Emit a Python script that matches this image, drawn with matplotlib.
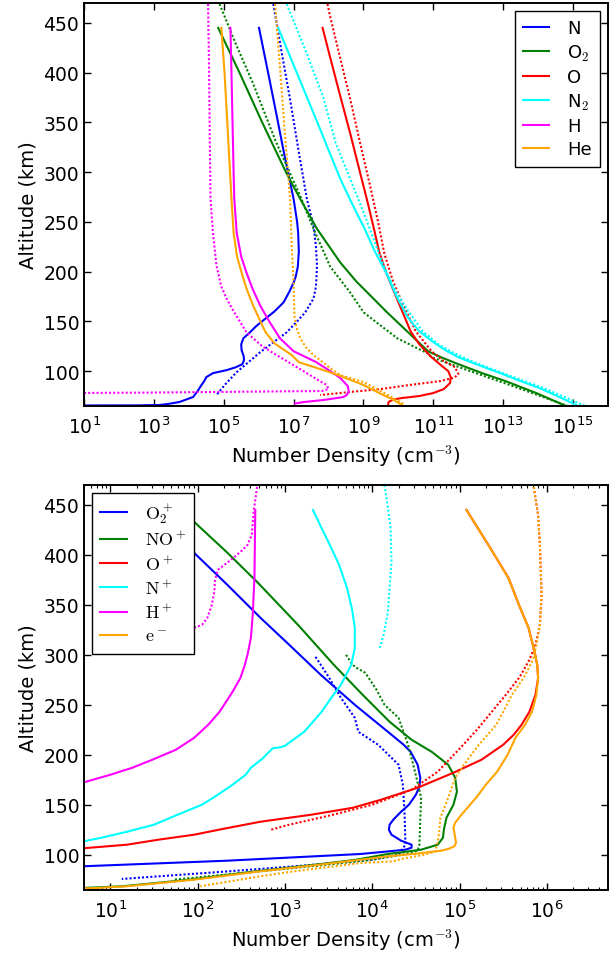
import matplotlib
matplotlib.use('Agg')
import matplotlib.pyplot as plt
from matplotlib.ticker import NullLocator, NullFormatter, FixedLocator, LogLocator, LogFormatterSciNotation

plt.rcParams['mathtext.fontset'] = 'cm'
plt.rcParams['font.family'] = 'DejaVu Sans'

# ---------------- neutral species (top panel) ----------------
# solid = model, dotted = reference profile
N_alt = [445, 400, 356, 320, 300, 273, 250, 239, 220, 205, 195, 189, 180, 169, 160, 151, 145, 139,
         133, 127, 121, 115, 111, 107, 104, 101, 98, 94, 90, 86, 80, 74, 69, 67, 66, 65.6, 65.5]
N_mod = [1.02e6, 1.86e6, 3.31e6, 5.25e6, 6.92e6, 1.0e7, 1.26e7, 1.35e7, 1.41e7, 1.32e7, 1.15e7, 1.0e7,
         7.59e6, 5.13e6, 2.82e6, 1.35e6, 8.32e5, 5.62e5, 3.63e5, 3.16e5, 3.24e5, 3.72e5, 3.80e5, 3.39e5,
         2.24e5, 1.20e5, 4.9e4, 3.16e4, 2.75e4, 2.29e4, 1.78e4, 1.32e4, 5.37e3, 2.51e3, 1.45e3, 3.16e2, 1.0]
N_ref_alt = [469, 420, 373, 320, 273, 246, 225, 206, 185, 173, 159, 150, 139, 119, 99, 87, 76]
N_ref = [2.63e6, 4.57e6, 7.94e6, 1.41e7, 2.40e7, 3.72e7, 4.37e7, 4.68e7, 4.37e7, 3.72e7, 2.14e7,
         1.26e7, 6.31e6, 1.10e6, 2.34e5, 1.12e5, 6.17e4]

O2_alt = [445, 400, 350, 300, 273, 243, 209, 190, 176, 160, 143, 130, 120, 114, 107, 98, 90, 78, 65]
O2_mod = [6.92e4, 2.82e5, 1.26e6, 6.03e6, 1.55e7, 4.68e7, 2.19e8, 6.31e8, 1.58e9, 4.47e9, 1.45e10,
          3.55e10, 7.08e10, 1.66e11, 5.25e11, 2.51e12, 1.17e13, 8.91e13, 6.31e14]
O2_ref_alt = [469, 430, 389, 330, 276, 243, 205, 180, 159, 151, 133, 118, 114, 102, 84, 65]
O2_ref = [7.59e4, 2.14e5, 6.92e5, 3.16e6, 1.55e7, 3.72e7, 1.12e8, 3.98e8, 1.02e9, 2.0e9, 9.33e9,
          6.76e10, 8.91e10, 7.94e11, 2.29e13, 7.08e14]

O_alt = [445, 416, 380, 339, 300, 271, 243, 220, 199, 171, 156, 140, 127, 114, 106, 100, 94, 88,
         82, 78, 75, 73, 71.5, 69, 65]
O_mod = [6.76e7, 1.10e8, 2.04e8, 4.17e8, 7.94e8, 1.29e9, 2.0e9, 2.82e9, 4.47e9, 9.55e9, 1.45e10,
         2.24e10, 3.98e10, 8.91e10, 1.66e11, 2.69e11, 3.16e11, 3.02e11, 2.0e11, 1.0e11, 3.98e10,
         1.26e10, 7.08e9, 5.25e9, 5.01e9]
O_ref_alt = [469, 456, 372, 330, 285, 250, 218, 190, 164, 140, 120, 110, 104, 97, 93.5, 90, 86, 82, 79, 76]
O_ref = [9.33e7, 1.12e8, 4.27e8, 7.94e8, 1.58e9, 2.63e9, 3.98e9, 7.08e9, 1.48e10, 3.16e10, 8.91e10,
         2.0e11, 4.17e11, 5.25e11, 3.98e11, 1.58e11, 2.0e10, 3.16e9, 3.98e8, 5.75e7]

N2_alt = [445, 400, 350, 318, 293, 270, 244, 220, 199, 175, 154, 140, 128, 120, 114, 106, 98.5, 90, 83, 75, 65]
N2_mod = [3.63e6, 1.23e7, 4.79e7, 1.12e8, 2.19e8, 4.47e8, 1.05e9, 2.14e9, 4.47e9, 8.91e9, 1.86e10,
          3.98e10, 1.12e11, 2.51e11, 5.25e11, 2.0e12, 7.59e12, 3.16e13, 1.10e14, 3.55e14, 1.41e15]
N2_ref_alt = [469, 420, 375, 330, 295, 258, 230, 204, 180, 161, 140, 127, 118, 110, 97, 82, 65]
N2_ref = [6.31e6, 2.34e7, 7.08e7, 1.58e8, 3.98e8, 1.05e9, 2.09e9, 3.98e9, 8.51e9, 1.86e10, 5.01e10,
          1.38e11, 3.98e11, 1.26e12, 1.17e13, 1.70e14, 2.24e15]

H_alt = [445, 400, 350, 300, 273, 239, 215, 199, 183, 166, 150, 133, 120, 109, 100, 93, 85, 79.5,
         76, 74, 71, 69, 67.5]
H_mod = [1.55e5, 1.66e5, 1.78e5, 1.91e5, 2.0e5, 2.34e5, 3.16e5, 4.47e5, 6.61e5, 1.10e6, 2.0e6,
         4.07e6, 1.0e7, 4.47e7, 1.12e8, 2.19e8, 3.55e8, 3.80e8, 3.31e8, 2.69e8, 7.24e7, 2.0e7, 1.10e7]
H_ref_alt = [469, 400, 330, 273, 239, 206, 185, 173, 159, 139, 125, 116, 106, 96, 90, 86, 82,
             80, 79.5, 78.5, 78.0]
H_ref = [3.55e4, 3.80e4, 3.98e4, 4.17e4, 4.90e4, 6.17e4, 8.51e4, 1.20e5, 2.0e5, 4.47e5, 1.26e6,
         3.31e6, 1.0e7, 2.95e7, 5.62e7, 8.91e7, 1.0e8, 6.31e7, 1.0e6, 1.0e3, 3.16]

He_alt = [445, 400, 350, 300, 273, 239, 215, 199, 183, 166, 150, 139, 128, 116, 109, 99.4, 93,
          86, 78, 71, 66]
He_mod = [8.51e4, 1.05e5, 1.26e5, 1.51e5, 1.66e5, 1.91e5, 2.40e5, 3.24e5, 4.47e5, 6.92e5, 1.12e6,
          1.58e6, 2.82e6, 8.91e6, 1.41e7, 1.0e8, 3.16e8, 1.02e9, 2.82e9, 7.41e9, 1.26e10]
He_ref_alt = [469, 400, 330, 273, 223, 190, 156, 143, 133, 124, 116, 110, 103, 96, 89, 78, 67]
He_ref = [2.95e6, 4.17e6, 5.89e6, 7.94e6, 8.91e6, 1.0e7, 1.05e7, 1.23e7, 1.55e7, 2.24e7, 3.72e7,
          6.31e7, 1.12e8, 2.19e8, 1.02e9, 3.98e9, 1.41e10]

# ---------------- ions (bottom panel) ----------------
O2p_alt = [445, 402, 370, 337, 310, 280, 250, 223, 210, 203, 190, 177, 168, 160, 150, 143, 135,
           130, 125, 120, 114, 110, 107, 105, 103, 100.7, 94, 88.4]
O2p_mod = [28.8, 91.2, 219, 525, 1.12e3, 2.57e3, 6.31e3, 1.51e4, 2.29e4, 2.75e4, 3.31e4, 3.55e4,
           3.47e4, 3.16e4, 2.63e4, 2.14e4, 1.74e4, 1.58e4, 1.55e4, 1.66e4, 2.14e4, 2.82e4, 2.82e4,
           2.40e4, 1.41e4, 7.41e3, 219, 4.9]
O2p_ref_alt = [298, 278, 257, 237, 223, 210, 190, 170, 143, 110, 100, 95, 89, 83, 75.7]
O2p_ref = [2.24e3, 3.16e3, 4.37e3, 6.31e3, 6.92e3, 1.17e4, 2.0e4, 2.24e4, 2.34e4, 2.40e4, 2.0e4,
           1.0e4, 1.58e3, 200, 13.5]

NOp_alt = [445, 433, 403, 373, 330, 290, 260, 233, 215, 203, 190, 177, 163, 150, 137, 125, 117,
           110, 105, 100.7, 95, 90.5, 83.4, 75, 68.4, 66]
NOp_mod = [64.6, 91.2, 214, 479, 1.41e3, 3.63e3, 7.76e3, 1.58e4, 2.82e4, 4.79e4, 7.41e4, 8.91e4,
           9.33e4, 8.51e4, 7.08e4, 6.61e4, 6.46e4, 5.62e4, 3.63e4, 1.51e4, 6.61e3, 2.51e3, 468,
           81.3, 13.8, 3.16]
NOp_ref_alt = [300, 292, 288, 282, 265, 250, 237, 210, 183, 157, 137, 110, 104, 100, 95, 90, 83.4, 75]
NOp_ref = [5.01e3, 5.75e3, 6.31e3, 8.32e3, 1.12e4, 1.38e4, 2.0e4, 2.57e4, 3.09e4, 3.63e4, 3.55e4,
           3.47e4, 3.31e4, 2.24e4, 1.0e4, 3.09e3, 525, 53.7]

Op_alt = [445, 410, 377, 350, 327, 303, 290, 277, 260, 243, 230, 220, 210, 195, 182, 167, 155,
          147, 140, 133, 126, 120, 115, 110, 106.5]
Op_mod = [1.20e5, 2.14e5, 3.63e5, 4.79e5, 6.17e5, 7.24e5, 7.76e5, 7.94e5, 7.41e5, 6.31e5, 5.13e5,
          4.17e5, 3.16e5, 1.78e5, 8.51e4, 3.31e4, 1.26e4, 6.03e3, 2.0e3, 525, 200, 91.2, 35.5,
          15.5, 5.01]
Op_ref_alt = [468, 440, 410, 360, 330, 310, 295, 278, 260, 243, 225, 208, 195, 183, 165, 150, 140,
              135, 130, 125]
Op_ref = [7.08e5, 7.94e5, 8.32e5, 8.71e5, 8.32e5, 7.41e5, 6.31e5, 4.90e5, 3.39e5, 2.34e5, 1.58e5,
          1.05e5, 7.59e4, 5.62e4, 2.82e4, 1.0e4, 3.55e3, 2.0e3, 1.12e3, 692]

Np_alt = [445, 425, 407, 390, 367, 345, 327, 307, 290, 270, 257, 243, 223, 209, 207.5, 206.5, 196,
          187, 180, 170, 160, 150, 140, 130, 123, 118, 113.4]
Np_mod = [2.09e3, 2.69e3, 3.39e3, 4.17e3, 5.13e3, 5.89e3, 6.31e3, 6.31e3, 5.75e3, 4.37e3, 3.39e3,
          2.63e3, 1.66e3, 1.0e3, 891, 724, 550, 407, 355, 251, 170, 112, 58.9, 31.6, 15.5, 8.91, 5.01]
Np_ref_alt = [470, 440, 427, 393, 343, 320, 305]
Np_ref = [1.38e4, 1.55e4, 1.62e4, 1.66e4, 1.51e4, 1.35e4, 1.20e4]

Hp_alt = [445, 377, 340, 317, 300, 290, 277, 263, 243, 230, 217, 205, 195, 187, 180, 172.5]
Hp_mod = [457, 447, 427, 407, 372, 347, 309, 251, 178, 132, 91.2, 56.2, 30.2, 17.8, 10, 5.01]
Hp_ref_alt = [468, 443, 420, 410, 403, 395, 385, 375, 363, 350, 337, 330, 327, 305]
Hp_ref = [479, 437, 417, 372, 309, 240, 170, 158, 155, 145, 129, 112, 91.2, 50.1]

e_alt = [445, 410, 377, 350, 327, 303, 290, 277, 260, 243, 230, 217, 200, 183, 170, 158, 148, 140,
         132, 127, 122, 117, 112, 108.4, 106, 104, 101, 98.4, 95, 90.5, 83.4, 75, 68.4, 66.5, 66]
e_mod = [1.20e5, 2.14e5, 3.63e5, 4.79e5, 6.17e5, 7.24e5, 7.76e5, 7.94e5, 7.59e5, 6.76e5, 5.62e5,
         4.37e5, 3.55e5, 2.69e5, 2.0e5, 1.58e5, 1.26e5, 1.05e5, 8.91e4, 8.51e4, 8.71e4, 8.91e4,
         9.12e4, 8.71e4, 7.59e4, 6.17e4, 3.16e4, 1.51e4, 7.41e3, 2.82e3, 525, 91.2, 15.5, 6.31, 3.16]
e_ref_alt = [468, 440, 410, 360, 330, 310, 295, 278, 260, 243, 230, 210, 190, 177, 157, 137, 117,
             103, 100, 96, 93.3, 91.7, 83.3, 78.4, 68.4]
e_ref = [7.08e5, 7.94e5, 8.32e5, 8.71e5, 8.32e5, 7.59e5, 6.92e5, 5.50e5, 3.98e5, 3.16e5, 2.63e5,
         1.66e5, 1.12e5, 8.91e4, 7.41e4, 6.03e4, 5.75e4, 5.25e4, 3.98e4, 2.24e4, 1.74e4, 7.41e3,
         1.26e3, 525, 107]

neutral_names = ['N', 'O$_2$', 'O', 'N$_2$', 'H', 'He']
ion_names = [r'$\mathrm{O_2^+}$', r'$\mathrm{NO^+}$', r'$\mathrm{O^+}$', r'$\mathrm{N^+}$',
             r'$\mathrm{H^+}$', r'$\mathrm{e^-}$']
colors = ['#0000ff', '#008000', '#ff0000', '#00ffff', '#ff00ff', '#ffa500']

neutrals = [(N_alt, N_mod, N_ref_alt, N_ref), (O2_alt, O2_mod, O2_ref_alt, O2_ref),
            (O_alt, O_mod, O_ref_alt, O_ref), (N2_alt, N2_mod, N2_ref_alt, N2_ref),
            (H_alt, H_mod, H_ref_alt, H_ref), (He_alt, He_mod, He_ref_alt, He_ref)]
ions = [(O2p_alt, O2p_mod, O2p_ref_alt, O2p_ref), (NOp_alt, NOp_mod, NOp_ref_alt, NOp_ref),
        (Op_alt, Op_mod, Op_ref_alt, Op_ref), (Np_alt, Np_mod, Np_ref_alt, Np_ref),
        (Hp_alt, Hp_mod, Hp_ref_alt, Hp_ref), (e_alt, e_mod, e_ref_alt, e_ref)]

dots = (0, (1, 1))
lw = 1.5

fig = plt.figure(figsize=(6.14, 9.54), dpi=100)
ax1 = fig.add_axes([0.137, 0.5734, 0.853, 0.4224])
ax2 = fig.add_axes([0.137, 0.0664, 0.853, 0.4242])

for ax, data, names in [(ax1, neutrals, neutral_names), (ax2, ions, ion_names)]:
    for (a, m, ra, r), name, c in zip(data, names, colors):
        ax.plot(m, a, color=c, lw=lw, label=name)
        ax.plot(r, ra, color=c, lw=lw, linestyle=dots)

for ax in (ax1, ax2):
    ax.set_xscale('log')
    ax.set_ylim(65, 470)
    ax.set_yticks([100, 150, 200, 250, 300, 350, 400, 450])
    ax.set_ylabel('Altitude (km)', fontsize=14)
    ax.set_xlabel('Number Density (cm$^{-3}$)', fontsize=14)
    ax.tick_params(which='both', direction='in', top=True, right=True, labelsize=13.5)
    ax.tick_params(which='major', length=5, width=1)
    ax.tick_params(which='minor', length=2.5, width=0.8)
    ax.tick_params(axis='x', pad=7)
    for s in ax.spines.values():
        s.set_linewidth(1.4)

ax1.set_xlim(1e1, 1e16)
ax1.xaxis.set_major_locator(FixedLocator([1e1, 1e3, 1e5, 1e7, 1e9, 1e11, 1e13, 1e15]))
ax1.xaxis.set_major_formatter(LogFormatterSciNotation())
ax1.xaxis.set_minor_locator(NullLocator())

ax2.set_xlim(5, 5e6)
ax2.xaxis.set_major_locator(FixedLocator([1e1, 1e2, 1e3, 1e4, 1e5, 1e6]))
ax2.xaxis.set_major_formatter(LogFormatterSciNotation())
ax2.xaxis.set_minor_locator(LogLocator(base=10, subs=range(2, 10), numticks=20))
ax2.xaxis.set_minor_formatter(NullFormatter())

leg_kw = dict(fontsize=13, fancybox=False, framealpha=1, edgecolor='black',
              handlelength=1.45, handletextpad=1.0, labelspacing=0.3, borderpad=0.45,
              borderaxespad=0.45)
l1 = ax1.legend(loc='upper right', **leg_kw)
l2 = ax2.legend(loc='upper left', **leg_kw)
for l in (l1, l2):
    l.get_frame().set_linewidth(1.0)

fig.savefig('out.png', dpi=100)
